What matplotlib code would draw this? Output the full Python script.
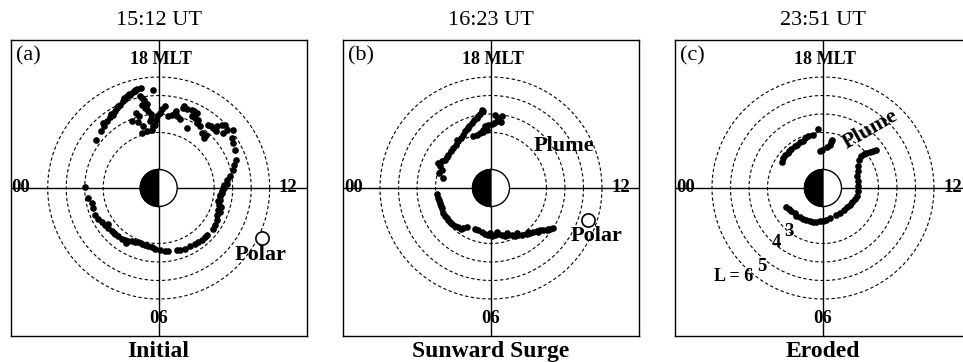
import matplotlib
matplotlib.use("Agg")
from matplotlib import pyplot as plt
from matplotlib.patches import Circle, Wedge
import numpy as np

plt.rcParams['font.family'] = ['Liberation Serif', 'DejaVu Serif']

# plasmapause points, x toward noon (12 MLT), y toward dusk (18 MLT), in Re
a_x = [-3.39, -3.14, -2.95, -2.81, -2.63, -2.49, -2.36, -2.23, -2.09, -1.95, -1.82, -1.69,
       -1.55, -1.41, -1.28, -1.15, -0.97, -0.29,
       -0.92, -0.79, -0.92, -0.65, -0.74, -0.56, -0.43, -1.23, -1.05, -1.46, -1.10, -0.83,
       -0.65, -0.92, -0.38, -0.29, -0.14, -0.07, 0.07, -0.47, -0.20,
       0.34, 0.52, 0.70, 0.88, 1.01, 1.15, 0.94, 1.37, 1.55, 1.51, 1.78, 1.91, 2.05, 1.96,
       2.14, 2.05, 2.23, 2.32, 2.45, 2.56, 2.68, 2.81, 2.95, 3.10, 3.17, 3.41, 3.59, 3.50,
       3.68, 4.04, 3.95, 4.04, 4.13, 4.18, 4.07, 4.00, 3.86, 3.68, 3.53, 3.50, 3.41, 3.32,
       -3.98, -3.80, -3.62, -3.57, -3.44, -3.26, -3.08, -2.90, -2.72, -2.54, -2.36, -2.18,
       -2.00, -1.82, -1.64, -1.46, -1.28, -1.10, -0.92, -0.74, -0.56, -0.38, -0.20, 0.07,
       0.34, 0.52, 0.97, 1.15, 1.42, 1.69, 1.96, 2.14, 2.32, 2.50, 2.59, 2.95, 3.05, 3.14,
       3.17, 3.23, 3.28, 3.32, 3.32, 3.41, 3.53, 3.68,
       -3.00, -2.60, -2.20, -1.90, -1.60, -1.30, -1.00, -0.70, -0.40, 0.20, 1.30, 1.80,
       3.20, 3.36, 3.30, -2.75, -2.40, -1.75]
a_y = [2.61, 3.06, 3.37, 3.60, 3.84, 3.96, 4.14, 4.32, 4.50, 4.68, 4.81, 4.95,
       5.05, 5.17, 5.28, 5.35, 5.41, 5.28,
       4.86, 4.74, 4.50, 4.56, 4.32, 4.14, 4.02, 4.05, 3.91, 3.60, 3.55, 3.33,
       3.06, 2.97, 3.15, 3.33, 3.69, 3.87, 4.05, 3.60, 3.42,
       4.45, 3.87, 3.96, 4.05, 3.87, 3.73, 4.14, 4.41, 4.27, 3.24, 4.23, 4.14, 4.05, 3.78,
       3.69, 3.51, 3.33, 2.97, 2.70, 2.88, 3.42, 3.33, 3.24, 3.06, 3.33, 3.42, 3.42, 2.97,
       3.15, 3.15, 2.70, 2.43, 2.07, 1.53, 1.26, 0.99, 0.63, 0.45, 0.18, 0.00, -0.27, -0.45,
       0.05, -0.54, -0.81, -1.08, -1.44, -1.68, -1.86, -1.98, -2.16, -2.34, -2.47, -2.61,
       -2.74, -2.79, -2.85, -2.88, -2.92, -2.94, -3.01, -3.06, -3.12, -3.21, -3.28, -3.33,
       -3.39, -3.42, -3.37, -3.33, -3.28, -3.15, -3.03, -2.94, -2.83, -2.65, -2.52, -2.22,
       -1.98, -1.71, -1.44, -1.17, -0.90, -0.63, -0.36, -0.18, 0.00, 0.23,
       3.50, 4.00, 4.45, 4.85, 5.10, 5.25, 4.95, 4.40, 3.75, 4.25, 4.30, 3.90,
       -0.70, -1.00, -1.30, -1.95, -2.45, -2.95]

b_x = [-0.50, -0.41, -0.59, -0.68, -0.77, -0.92, -1.05, -1.17, -1.32, -1.41, -1.53, -1.64,
       -1.77, -1.89, -2.04, -2.18, -2.31, -2.49, -2.67, -2.85, -2.76, -2.67, -2.79, -2.58,
       0.58, 0.40, 0.31, 0.16, 0.04, -0.14, -0.32, -0.45, -0.59, -0.77, -0.95, 0.22, 0.52,
       -0.23, -0.41,
       -2.85, -2.76, -2.67, -2.58, -2.49, -2.31, -2.13, -1.95, -1.77, -1.50, -1.32, -0.86,
       -0.68, -0.50, -0.32, -0.14, 0.04, 0.22, 0.40, 0.58, 0.76, 0.94, 1.12, 1.30, 1.48,
       1.66, 1.93, 2.11, 2.29, 2.47, 2.65, 2.83, 3.01, 3.19, 3.37,
       -2.90, -2.80, -2.70, -2.40, -2.20, -1.60, -0.05, 0.30, 0.85, 1.40, 2.00, 2.55, 3.10,
       -1.25, -1.85, -2.40]
b_y = [4.23, 4.14, 4.02, 3.87, 3.78, 3.66, 3.51, 3.37, 3.19, 3.06, 2.88, 2.70,
       2.52, 2.34, 2.16, 1.98, 1.80, 1.53, 1.44, 1.35, 1.17, 0.99, 0.81, 0.54,
       3.87, 3.78, 3.60, 3.51, 3.48, 3.42, 3.33, 3.15, 2.97, 2.88, 2.79, 3.96, 3.55,
       3.15, 3.01,
       -0.54, -0.81, -1.08, -1.35, -1.53, -1.75, -1.93, -2.04, -2.11, -2.16, -2.11, -2.22,
       -2.29, -2.40, -2.47, -2.52, -2.58, -2.52, -2.47, -2.52, -2.58, -2.52, -2.52, -2.58,
       -2.52, -2.52, -2.47, -2.43, -2.40, -2.34, -2.29, -2.29, -2.25, -2.22, -2.16,
       -0.35, -0.65, -0.95, -1.60, -1.85, -2.20, -2.45, -2.40, -2.45, -2.45, -2.38, -2.36,
       -2.20, 3.25, 2.60, 1.70]

c_x = [-0.27, -0.54, -0.81, -0.99, -1.08, -1.26, -1.41, -1.53, -1.71, -1.84, -1.89, -2.07,
       -2.16, -2.20,
       -0.18, -0.04, 0.22, 0.36, 0.45, 0.50,
       2.88, 2.70, 2.52, 2.34, 2.20, 2.07, 1.95, 1.89, 1.89, 1.84, 1.89, 1.91, 1.89, 1.84,
       1.71, 1.59, 1.44, 1.30, 1.12, 0.94, 0.72,
       0.36, 0.18, 0.00, -0.18, -0.36, -0.54, -0.72, -0.90, -1.08, -1.26, -1.44, -1.53,
       -1.71, -1.84, -1.98]
c_y = [3.19, 2.88, 2.83, 2.70, 2.52, 2.47, 2.34, 2.25, 2.11, 1.98, 1.89, 1.80,
       1.62, 1.39,
       1.98, 2.07, 2.22, 2.34, 2.47, 2.61,
       2.07, 1.98, 1.93, 1.89, 1.84, 1.71, 1.53, 1.17, 0.90, 0.63, 0.36, 0.09, -0.18, -0.41,
       -0.59, -0.77, -0.90, -1.03, -1.21, -1.35, -1.44,
       -1.62, -1.71, -1.77, -1.80, -1.86, -1.82, -1.77, -1.71, -1.66, -1.59, -1.50, -1.35,
       -1.26, -1.14, -1.03]

polar_a = (5.57, -2.70)
polar_b = (5.27, -1.71)

times = ['15:12 UT', '16:23 UT', '23:51 UT']
tags = ['(a)', '(b)', '(c)']
names = ['Initial', 'Sunward Surge', 'Eroded']
shells = [3, 4, 5, 6]

W, H = 963, 362
fig = plt.figure(figsize=(W / 100, H / 100), dpi=100)

centers = [158.7, 491.0, 823.0]
half = 148.0
top = 40.0

axes = []
for cx in centers:
    ax = fig.add_axes([(cx - half) / W, (H - top - 2 * half) / H, 2 * half / W, 2 * half / H])
    axes.append(ax)

for i, ax in enumerate(axes):
    ax.set_xlim(-8, 8)
    ax.set_ylim(-8, 8)
    ax.set_aspect('equal')
    ax.set_xticks([])
    ax.set_yticks([])
    for s in ax.spines.values():
        s.set_linewidth(1.0)
    ax.axhline(0, color='black', lw=1.0, zorder=1)
    ax.axvline(0, color='black', lw=1.0, zorder=1)
    th = np.linspace(0, 2 * np.pi, 400)
    for L in shells:
        ax.plot(L * np.cos(th), L * np.sin(th), color='black', lw=0.8,
                dashes=(3.0, 2.2), zorder=1)
    ax.add_patch(Circle((0, 0), 1, facecolor='white', edgecolor='black', lw=1.0, zorder=3))
    ax.add_patch(Wedge((0, 0), 1, 90, 270, facecolor='black', edgecolor='black', lw=1.0, zorder=4))

    ax.text(0.1, 6.93, '18 MLT', ha='center', va='center', fontsize=13, fontweight='bold', zorder=6)
    ax.text(-7.44, 0, '00', ha='center', va='center', fontsize=13.5, fontweight='bold', zorder=6)
    ax.text(7.0, 0, '12', ha='center', va='center', fontsize=13.5, fontweight='bold', zorder=6)
    ax.text(0, -7.03, '06', ha='center', va='center', fontsize=13.5, fontweight='bold', zorder=6)
    ax.text(0.018, 0.948, tags[i], transform=ax.transAxes, ha='left', va='center', fontsize=16)
    ax.text(0.5, 1.066, times[i], transform=ax.transAxes, ha='center', va='center', fontsize=16)
    ax.text(0.5, -0.054, names[i], transform=ax.transAxes, ha='center', va='center',
            fontsize=17, fontweight='bold')

axes[0].scatter(a_x, a_y, s=23, color='black', lw=0, zorder=5)
axes[1].scatter(b_x, b_y, s=23, color='black', lw=0, zorder=5)
axes[2].scatter(c_x, c_y, s=23, color='black', lw=0, zorder=5)

for ax, p in [(axes[0], polar_a), (axes[1], polar_b)]:
    ax.plot(p[0], p[1], 'o', ms=9.5, mfc='white', mec='black', mew=1.2, zorder=6)

axes[0].text(5.48, -3.64, 'Polar', ha='center', va='center', fontsize=16, fontweight='bold', zorder=7)
axes[1].text(5.73, -2.61, 'Polar', ha='center', va='center', fontsize=16, fontweight='bold', zorder=7)
axes[1].text(3.95, 2.25, 'Plume', ha='center', va='center', fontsize=16, fontweight='bold', zorder=7)
axes[2].text(2.54, 3.15, 'Plume', ha='center', va='center', fontsize=16, fontweight='bold',
             rotation=30, zorder=7)

# L-shell labels
axes[2].text(-1.82, -2.35, '3', ha='center', va='center', fontsize=13.5, fontweight='bold', zorder=7)
axes[2].text(-2.54, -2.97, '4', ha='center', va='center', fontsize=13.5, fontweight='bold', zorder=7)
axes[2].text(-3.31, -4.24, '5', ha='center', va='center', fontsize=13.5, fontweight='bold', zorder=7)
axes[2].text(-4.85, -4.78, 'L = 6', ha='center', va='center', fontsize=13, fontweight='bold', zorder=7)

fig.savefig('out.png', dpi=100)
